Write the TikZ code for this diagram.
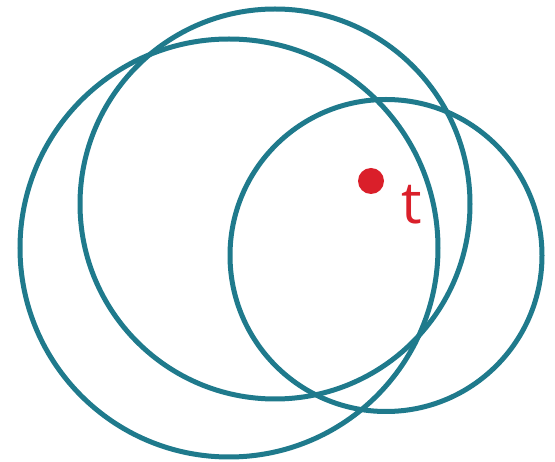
\documentclass[tikz,border=0pt]{standalone}
\usepackage{fontspec}
\setsansfont{Open Sans}
\usepackage{tikz}
\usetikzlibrary{positioning}
\definecolor{ringteal}{HTML}{1F7A8C}
\definecolor{ptred}{HTML}{DA1F2A}

\begin{document}
\begin{tikzpicture}[
    x=1pt, y=-1pt,
    ring/.style={circle, draw=ringteal, line width=5pt, inner sep=0pt},
    pt/.style={circle, fill=ptred, inner sep=0pt, minimum size=26pt},
    lbl/.style={text=ptred, font=\sffamily\fontsize{58}{58}\selectfont, inner sep=0pt},
]
    \useasboundingbox (0,0) rectangle (555,462);

    % Circles
    \node[ring, minimum size=418pt] (left)  at (229,248)   {};
    \node[ring, minimum size=390pt] (top)   at (275,204)   {};
    \node[ring, minimum size=312pt] (right) at (386,255.5) {};

    % Point
    \node[pt] (dot) at (371,181) {};
    \node[lbl, anchor=base west] (t) at (401,224) {t};
\end{tikzpicture}
\end{document}
